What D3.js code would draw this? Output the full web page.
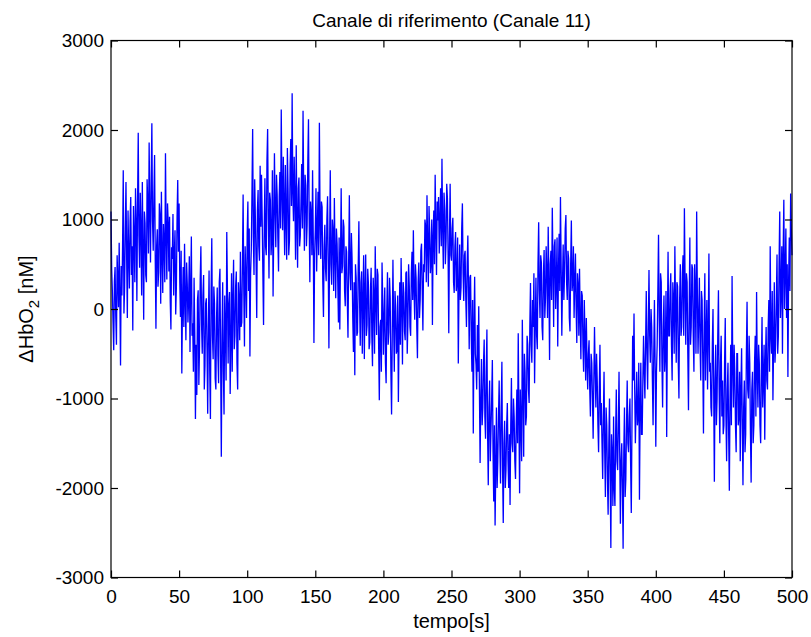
<!DOCTYPE html>
<html>
<head>
<meta charset="utf-8">
<script src="https://cdn.jsdelivr.net/npm/d3@7/dist/d3.min.js"></script>
<style>
  html, body { margin: 0; padding: 0; background: #fff; }
  svg { display: block; }
  .axis text { font-family: "Liberation Sans", Arial, Helvetica, sans-serif; font-size: 19px; fill: #000; }
  .axis line { stroke: #000; stroke-width: 1.2; }
</style>
</head>
<body>
<svg id="chart" width="811" height="637"></svg>
<script>
// Reference channel (Canale 11): two samples per second, t = 0..500 s, values in nM
const hbo2 = [
  1090, 450, 200, -150, -460, 310, 470, -80, -400, 600, 320, 20, 740, 150, -630, 480, 150, 700, 1550, -50,
  240, 900, 1420, 560, -100, 1100, 610, 230, 975, 1250, 380, 700, -240, 1150, 820, 300, 1350, 980, 90, 1190,
  1970, 820, 460, 1300, 880, 150, 1420, 640, -120, 1090, 960, 380, 300, 1450, 1180, 620, 1860, 1100, 520, 1400,
  2075, 980, 650, 1250, 1720, 540, -220, 700, 890, 250, 410, 1180, 1050, 60, 1310, 620, 180, 950, 720, 300,
  1740, 820, 330, 1180, 960, 420, 1030, 80, -230, 690, 560, 1060, 150, 610, 880, -60, 240, 1020, 1440, 640,
  1180, 300, -90, 650, -720, 80, 470, -200, 730, 110, -350, 520, 280, -150, 120, 590, -480, 240, 810, -300,
  -160, -700, 350, -250, -1230, -400, -960, 100, 210, -850, -420, 330, 700, -180, -500, 150, 380, -900, -640, 60,
  120, -450, -1170, -200, 430, -700, -1230, 200, 790, -300, -560, 250, 60, -780, -900, -100, 240, -520, -830, 300,
  450, -600, -1650, -300, 300, -700, -1180, 150, -220, -800, 860, 200, -610, 50, 190, -950, -380, 400, -700, 100,
  550, -450, -300, 250, 420, -600, -900, 300, 80, -350, 640, -200, -150, 500, 1280, 200, -420, 700, 360, -100,
  850, 1200, 200, 900, -530, 400, 660, 1300, 2010, 800, 380, 1450, 1020, 550, -100, 1100, 1330, 700, 540, 1600,
  920, 1500, 1030, 400, -180, 900, 1460, 700, 600, 1650, 2010, 1000, 340, 1300, 1220, 600, 780, 1550, 140, 900,
  1740, 1100, 690, 1500, 1280, 800, 420, 1250, 1530, 900, 2230, 1300, 880, 1700, 1160, 600, 1610, 1000, 550, 1800,
  1350, 600, 760, 1600, 1900, 1150, 2410, 1300, 980, 1700, 1240, 550, 1830, 1000, 460, 1350, 1470, 700, 820, 1200,
  1620, 900, 2215, 1250, 650, 1500, 1380, 700, 940, 1650, 2120, 1000, 300, 1200, 1050, 600, 1550, 800, -380, 600,
  880, 1350, 420, 900, 1310, 600, 2080, 1000, 560, 1200, 1140, 300, -90, 700, 940, 450, 310, 1000, 1260, 500,
  -440, 700, 1550, 500, 270, 1000, 880, 200, 1240, 600, 120, 900, 730, 300, -150, 800, -230, 550, 1350, 400,
  480, 1000, 920, 200, 30, 700, 640, 100, -320, 550, 1270, 400, 210, 850, 560, -100, -480, 300, -740, 500,
  350, -300, -260, 450, 980, 100, -410, 300, 420, -500, 90, 600, -560, 200, 610, -300, -180, 450, 280, -450,
  -370, 200, 460, -300, -640, 350, 150, -500, 700, 100, -290, 450, 380, -400, -1020, -200, -120, -700, 520, 100,
  -510, -100, 240, -600, -830, 0, 410, -400, -260, 350, 120, -700, -1180, -300, 550, -150, -700, 200, 30, -500,
  -450, 150, -1040, -300, 300, -400, 570, 100, -620, 300, 180, -250, -350, 400, 420, -500, -150, 500, 260, -200,
  -300, 400, 640, 100, 880, 200, -120, 500, 350, -200, -550, 300, 520, -100, 100, 650, 730, 200, -240, 500,
  410, 1000, 920, 300, 1270, 700, 250, 1150, 860, 400, 530, 1000, -180, 800, 1100, 500, 1500, 900, 380, 1200,
  990, 1250, 620, 1000, 1350, 700, 1680, 900, 450, 1300, 1120, 500, 760, 1400, 1240, 600, -270, 800, 1400, 600,
  540, 900, 1020, 300, 180, 700, 860, 200, 310, 800, -610, 200, 720, 100, 240, 900, 1180, 400, 90, 600,
  650, 100, -200, 500, 820, 200, -450, 350, 380, -300, -700, 100, -1390, -200, 360, -500, -620, -900, -180, -700,
  30, -900, -1720, -1000, -560, -1300, -1100, -600, -340, -1200, -1450, -700, -230, -1400, -1970, -1100, -800, -1700, -1350, -1000,
  -570, -1600, -2150, -1300, -2420, -1800, -1100, -2000, -1700, -1200, -800, -1500, -1950, -1100, -590, -1800, -2390, -1500, -1250, -2000,
  -1800, -1300, -1050, -1700, -2000, -1400, -2190, -1300, -770, -1500, -1600, -1000, -1200, -1700, -1900, -1300, -900, -1500, -270, -1200,
  -2060, -900, -1300, -1700, -120, -900, -1650, -500, -700, -1300, -1200, -300, -400, -900, -1050, -200, 290, -400, -600, 100,
  -200, 400, -830, -200, 350, -300, -450, 500, 970, 200, -100, 600, 520, -200, -350, 400, 660, -100, 120, 700,
  400, -100, 920, 300, -570, 500, 650, 100, 1130, 500, -200, 700, 780, 0, 300, 800, -420, 400, 840, 200,
  1250, 500, -300, 300, 720, 100, 400, 900, 1050, 300, 100, 650, 560, -100, -250, 500, 990, 200, 300, 700,
  -100, 300, 620, 0, -380, 400, 280, -300, 450, -100, -560, 200, 150, -400, -700, 100, -300, -800, -100, -600,
  -900, -500, -350, -900, -1200, -500, -600, -1000, -1450, -800, -200, -700, -1100, -500, -800, -1300, -1600, -900, -400, -1300,
  -1050, -1500, -1900, -1200, -700, -1600, -2100, -1100, -1300, -1900, -2300, -1500, -1000, -1900, -2670, -1400, -1600, -2200, -1200, -2000,
  -2200, -1400, -900, -1700, -1800, -1300, -700, -1600, -2400, -1700, -1500, -2000, -2680, -1600, -1100, -2100, -1900, -1300, -800, -1500,
  -1600, -1200, -1000, -1700, -2280, -1300, -300, -800, -50, -900, -1500, -1100, -700, -1300, -1200, -600, -2130, -1100, -600, -1400,
  -1400, -800, -300, -700, -1000, -400, 200, -500, -900, -200, 435, -300, -600, 0, -200, -800, -1300, -500, 100, -600,
  -1540, -700, -400, 200, 830, -100, -700, 400, 300, -600, -1100, -200, 150, -700, -500, 200, -1430, -200, 640, -300,
  -300, 200, 400, -400, -800, 300, 100, -500, 700, 0, -600, 300, 250, -600, -1000, 100, 500, -300, -200, 400,
  600, -300, 1125, 300, -400, 400, 300, -500, -1130, 0, 800, -400, -200, 500, 450, -300, -700, 500, 200, -500,
  1090, 200, -500, -100, 350, -400, -800, 200, 100, -600, -1390, -200, 400, -800, -300, 100, -900, -300, 620, -700,
  -600, -1100, -1200, -400, 0, -900, -1930, -800, -400, -1300, -1000, -300, 210, -900, -1500, -600, -300, -1200, -800, -1400,
  -1300, -600, -100, -1200, -1700, -900, -600, -1400, -2030, -1000, -400, -1300, 370, -600, -1100, -400, -700, -1300, -1600, -500,
  -500, -1300, -1200, -700, -1700, -900, -440, -1300, -1970, -1100, -800, -1600, -1400, -500, 80, -900, -1000, -300, -600, -1400,
  -1940, -900, -700, -1500, -1300, -600, -300, -1200, 190, -700, -1100, -400, -600, -1300, -1500, -700, -90, -1100, -800, -400,
  -1460, -600, -200, -800, -900, -200, 100, -700, 700, -300, -500, 200, -1020, -400, 300, -600, -400, 100, 610, -500,
  -300, 500, 1090, -100, 200, 700, -500, 600, 1220, 0, 400, 900, -100, 500, -760, 300, 800, 200, 1290, 900, 600
];
const sampleStep = 0.5; // seconds between samples

const xTicks = [0, 50, 100, 150, 200, 250, 300, 350, 400, 450, 500];
const yTicks = [-3000, -2000, -1000, 0, 1000, 2000, 3000];

const titleText = "Canale di riferimento (Canale 11)";
const xLabelText = "tempo[s]";

const svg = d3.select("#chart");
const box = { left: 111, right: 792, top: 40.5, bottom: 577.5 };

const x = d3.scaleLinear().domain([0, 500]).range([box.left, box.right]);
const y = d3.scaleLinear().domain([-3000, 3000]).range([box.bottom, box.top]);

const points = hbo2.map((v, i) => [i * sampleStep, v]);

// signal trace
svg.append("path")
  .datum(points)
  .attr("fill", "none")
  .attr("stroke", "#0000ff")
  .attr("stroke-width", 1.3)
  .attr("stroke-linejoin", "miter")
  .attr("d", d3.line().x(d => x(d[0])).y(d => y(d[1])));

// axes with inward ticks on all four sides
const tick = 7;
const plain = d => String(d);
svg.append("g").attr("class", "axis")
  .attr("transform", `translate(0,${box.bottom})`)
  .call(d3.axisBottom(x).tickValues(xTicks).tickSizeInner(-tick).tickSizeOuter(0).tickPadding(12).tickFormat(plain))
  .call(g => g.select(".domain").remove());
svg.append("g").attr("class", "axis")
  .attr("transform", `translate(0,${box.top})`)
  .call(d3.axisTop(x).tickValues(xTicks).tickSizeInner(-tick).tickSizeOuter(0).tickFormat(""))
  .call(g => g.select(".domain").remove());
svg.append("g").attr("class", "axis")
  .attr("transform", `translate(${box.left},0)`)
  .call(d3.axisLeft(y).tickValues(yTicks).tickSizeInner(-tick).tickSizeOuter(0).tickPadding(7).tickFormat(plain))
  .call(g => g.select(".domain").remove());
svg.append("g").attr("class", "axis")
  .attr("transform", `translate(${box.right},0)`)
  .call(d3.axisRight(y).tickValues(yTicks).tickSizeInner(-tick).tickSizeOuter(0).tickFormat(""))
  .call(g => g.select(".domain").remove());

// frame
svg.append("rect")
  .attr("x", box.left).attr("y", box.top)
  .attr("width", box.right - box.left).attr("height", box.bottom - box.top)
  .attr("fill", "none").attr("stroke", "#000").attr("stroke-width", 1.2);

const font = "'Liberation Sans', Arial, Helvetica, sans-serif";

// title
svg.append("text")
  .attr("x", (box.left + box.right) / 2).attr("y", 27)
  .attr("text-anchor", "middle")
  .style("font-family", font).style("font-size", "19px")
  .text(titleText);

// x label
svg.append("text")
  .attr("x", (box.left + box.right) / 2).attr("y", 628)
  .attr("text-anchor", "middle")
  .style("font-family", font).style("font-size", "20px")
  .text(xLabelText);

// y label: ΔHbO₂ [nM]
const yl = svg.append("text")
  .attr("transform", `translate(33,${(box.top + box.bottom) / 2}) rotate(-90)`)
  .attr("text-anchor", "middle")
  .style("font-family", font).style("font-size", "20px");
yl.append("tspan").text("\u0394HbO");
yl.append("tspan").attr("dy", 6).style("font-size", "15px").text("2");
yl.append("tspan").attr("dy", -6).text(" [nM]");
</script>
</body>
</html>
